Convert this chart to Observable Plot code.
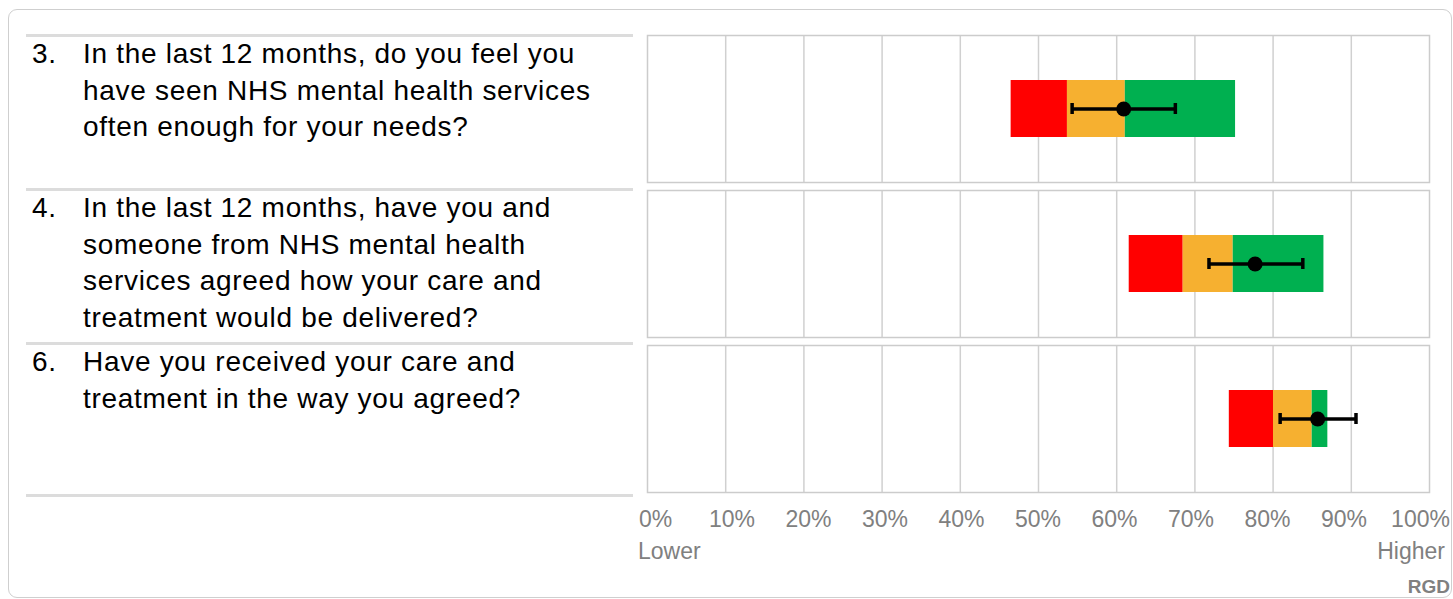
<!DOCTYPE html>
<html>
<head>
<meta charset="utf-8">
<script src="https://cdn.jsdelivr.net/npm/d3@7"></script>
<script src="https://cdn.jsdelivr.net/npm/@observablehq/plot@0.6"></script>
<style>
  html, body { margin: 0; padding: 0; background: #fff; width: 1453px; height: 599px; overflow: hidden; }
  body { position: relative; font-family: "Liberation Sans", Arial, sans-serif; }
  .box { position: absolute; left: 8px; top: 9px; width: 1444px; height: 589px; border: 1px solid #cfcfcf; border-radius: 9px; box-sizing: border-box; }
  .sep { position: absolute; left: 26px; width: 607px; height: 3px; background: #dcdcdc; }
  .qnum, .qtext { position: absolute; font-size: 28px; letter-spacing: 0.7px; line-height: 36.5px; color: #000; white-space: pre-line; }
  .qnum { left: 32px; }
  .qtext { left: 83px; }
  .lab { position: absolute; font-size: 23px; line-height: 23px; color: #808080; }
  .rgd { position: absolute; font-size: 19px; line-height: 19px; font-weight: bold; color: #808080; }
  #chart { position: absolute; left: 640px; top: 30px; }
  #axis { position: absolute; left: 600px; top: 499px; }
</style>
</head>
<body>
<div class="box"></div>
<div id="left"></div>
<div id="chart"></div>
<div id="axis"></div>
<div class="lab" style="left:638px; top:540px;">Lower</div>
<div class="lab" style="right:8px; top:540px; text-align:right;">Higher</div>
<div class="rgd" style="right:3px; top:577px;">RGD</div>
<script>
// ---- Data ----
const questionIds = ["3", "4", "6"];
const questionTexts = [
  "In the last 12 months, do you feel you\nhave seen NHS mental health services\noften enough for your needs?",
  "In the last 12 months, have you and\nsomeone from NHS mental health\nservices agreed how your care and\ntreatment would be delivered?",
  "Have you received your care and\ntreatment in the way you agreed?"
];
const redStart   = [46.5, 61.6, 74.4];
const amberStart = [53.7, 68.5, 80.05];
const greenStart = [61.1, 74.9, 85.0];
const greenEnd   = [75.2, 86.5, 87.0];
const score      = [60.9, 77.7, 85.7];
const ciLow      = [54.3, 71.8, 80.9];
const ciHigh     = [67.5, 83.8, 90.6];
const gridTicks  = [10, 20, 30, 40, 50, 60, 70, 80, 90];
const axisTicks  = [0, 10, 20, 30, 40, 50, 60, 70, 80, 90, 100];

const rows = questionIds.map((id, i) => ({
  id, band: "row", red: redStart[i], amber: amberStart[i], green: greenStart[i], end: greenEnd[i],
  score: score[i], lo: ciLow[i], hi: ciHigh[i]
}));

// ---- Left question panel ----
const left = document.getElementById("left");
const rowTops = [34, 188, 342];
rowTops.concat([494]).forEach(t => {
  const s = document.createElement("div");
  s.className = "sep"; s.style.top = t + "px"; left.appendChild(s);
});
questionIds.forEach((id, i) => {
  const n = document.createElement("div");
  n.className = "qnum"; n.style.top = (rowTops[i] + 2) + "px"; n.textContent = id + ".";
  const t = document.createElement("div");
  t.className = "qtext"; t.style.top = (rowTops[i] + 2) + "px"; t.textContent = questionTexts[i];
  left.appendChild(n); left.appendChild(t);
});

// ---- Main chart ----
const chart = Plot.plot({
  width: 800,
  height: 470,
  marginLeft: 7,
  marginRight: 11,
  marginTop: 4,
  marginBottom: 6,
  x: {domain: [0, 100], axis: null},
  y: {domain: ["row"], axis: null, padding: 0},
  fy: {domain: questionIds, axis: null, paddingInner: 0.05, paddingOuter: 0},
  marks: [
    Plot.ruleX(gridTicks, {x: d => d, stroke: "#d0d0d0", strokeWidth: 1.5}),
    Plot.barX(rows, {fy: "id", y: "band", x1: "red", x2: "amber", fill: "#FF0000", insetTop: 45, insetBottom: 45}),
    Plot.barX(rows, {fy: "id", y: "band", x1: "amber", x2: "green", fill: "#F6B030", insetTop: 45, insetBottom: 45}),
    Plot.barX(rows, {fy: "id", y: "band", x1: "green", x2: "end", fill: "#00B050", insetTop: 45, insetBottom: 45}),
    Plot.ruleY(rows, {fy: "id", y: "band", x1: "lo", x2: "hi", stroke: "#000", strokeWidth: 3.5}),
    Plot.ruleX(rows, {fy: "id", y1: "band", y2: "band", x: "lo", stroke: "#000", strokeWidth: 3.5, insetTop: 68, insetBottom: 68}),
    Plot.ruleX(rows, {fy: "id", y1: "band", y2: "band", x: "hi", stroke: "#000", strokeWidth: 3.5, insetTop: 68, insetBottom: 68}),
    Plot.dot(rows, {fy: "id", y: "band", x: "score", r: 7.5, fill: "#000"}),
    Plot.frame({stroke: "#cccccc", strokeWidth: 1.5})
  ]
});
document.getElementById("chart").appendChild(chart);

// ---- Axis labels ----
const axis = Plot.plot({
  width: 853,
  height: 40,
  marginLeft: 55,
  marginRight: 33,
  marginTop: 0,
  marginBottom: 0,
  x: {domain: [0, 100], axis: null},
  marks: [
    Plot.text(axisTicks, {x: d => d, text: d => d + "%", fontSize: 23, fill: "#808080", fontFamily: "Liberation Sans, Arial, sans-serif"})
  ]
});
document.getElementById("axis").appendChild(axis);
</script>
</body>
</html>
